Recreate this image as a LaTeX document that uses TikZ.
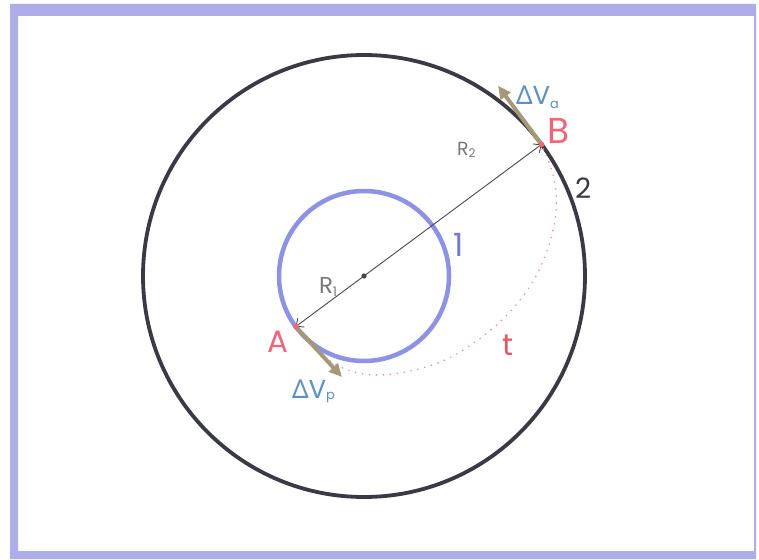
\documentclass[tikz,border=0pt]{standalone}
\usepackage{fontspec}
\setmainfont{Poppins}
\newfontfamily\grk{Noto Sans}
\usetikzlibrary{arrows.meta}
\definecolor{framec}{HTML}{ADADEA}
\definecolor{bigc}{HTML}{3A3A44}
\definecolor{smallc}{HTML}{8E92E4}
\definecolor{ptred}{HTML}{F0657A}
\definecolor{tred}{HTML}{E8575F}
\definecolor{dvblue}{HTML}{5E8FC6}
\definecolor{onec}{HTML}{7577D6}
\definecolor{khaki}{HTML}{A8987A}
\definecolor{rgray}{HTML}{7A7A7A}
\definecolor{dotc}{HTML}{EE9098}
\definecolor{radc}{HTML}{484850}
\newcommand{\fs}[1]{\fontsize{#1}{#1}\selectfont}
\begin{document}
\begin{tikzpicture}[x=1pt,y=-1pt,
  lbl/.style={inner sep=0pt, outer sep=0pt, anchor=base west},
  radius line/.style={radc, line width=0.9pt, -{Straight Barb[length=6pt,width=11pt]}},
  dv arrow/.style={khaki, line width=4pt, -{Triangle[length=13pt,width=12pt]}},
  transfer/.style={dotc, line width=1.8pt, dash pattern=on 0pt off 7pt, line cap=round}]
\useasboundingbox (0,0) rectangle (759,559);
\fill[white] (0,0) rectangle (759,559);
\fill[framec, even odd rule] (10,4) rectangle (756,559) (18,16) rectangle (754,551);

\coordinate (C) at (364,276);
\coordinate (B) at (541.5,144.4);
\coordinate (A) at (295.7,326.6);
\coordinate (Bt) at (498,85.8);
\coordinate (At) at (342,377);

\draw[bigc, line width=3.8pt] (C) circle[radius=221];
\draw[smallc, line width=4.5pt] (C) circle[radius=85];

\draw[transfer] plot[smooth, tension=0.6] coordinates {(295.7,326.6) (318,352) (345,369) (375,375) (410,371) (445,360) (478,340) (508,314) (532,283) (548,248) (556,212) (554,178) (541.5,144.4)};

\draw[radius line] (C) -- (B);
\draw[radius line] (C) -- (A);
\fill[radc] (C) circle[radius=2.6];

\draw[dv arrow] (B) -- (Bt);
\draw[dv arrow] (A) -- (At);
\fill[ptred] (B) circle[radius=2.8];
\fill[ptred] (A) circle[radius=2.8];

\node[lbl, text=ptred, font=\fs{36}] (lB) at (547,143) {B};
\node[lbl, text=ptred, font=\fs{31}] (lA) at (267,352) {A};
\node[lbl, text=dvblue, font=\fs{26}] (dva) at (516,105) {{\grk Δ}V\raisebox{-0.15em}{\fs{13}a}};
\node[lbl, text=dvblue, font=\fs{26}] (dvp) at (292,398) {{\grk Δ}V\raisebox{-0.05em}{\fs{13}p}};
\node[lbl, text=rgray, font=\fs{19}] (r2) at (457,155) {R\raisebox{-0.15em}{\fs{12}2}};
\node[lbl, text=rgray, font=\fs{23}] (r1) at (319,293) {R\raisebox{-0.15em}{\fs{13}1}};
\node[lbl, text=onec, font=\fs{32}] (one) at (453,256) {1};
\node[lbl, text=bigc, font=\fs{28}] (two) at (575,198) {2};
\node[lbl, text=tred, font=\fs{30}] (tt) at (502,355) {t};
\end{tikzpicture}
\end{document}
